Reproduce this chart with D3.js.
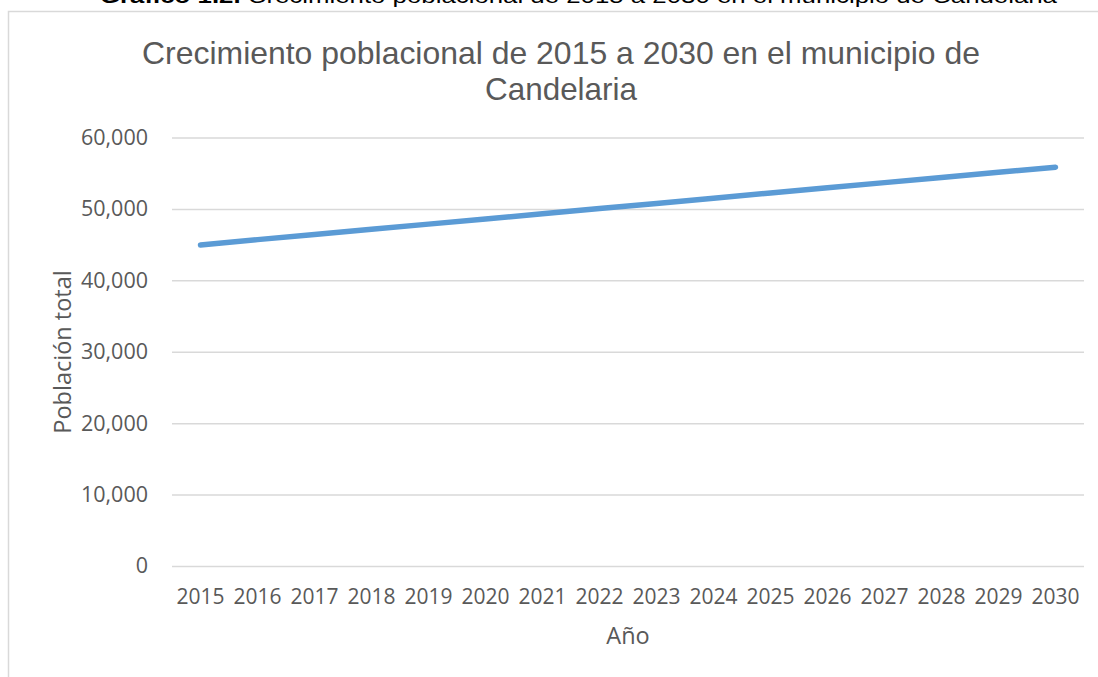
<!DOCTYPE html>
<html><head><meta charset="utf-8">
<script src="https://cdn.jsdelivr.net/npm/d3@7"></script>
<style>html,body{margin:0;padding:0;background:#fff;overflow:hidden}</style>
</head><body>
<script>
const years = ["2015","2016","2017","2018","2019","2020","2021","2022","2023","2024","2025","2026","2027","2028","2029","2030"];
const population = [44950,45700,46420,47150,47870,48590,49320,50050,50770,51500,52230,52960,53680,54400,55120,55850];
const yTicks = [0,10000,20000,30000,40000,50000,60000];
const captionBold = "Gráfico 1.2.";
const captionRest = " Crecimiento poblacional de 2015 a 2030 en el municipio de Candelaria";
const titleLines = ["Crecimiento poblacional de 2015 a 2030 en el municipio de","Candelaria"];
const yTitle = "Población total";
const xTitle = "Año";

const W = 1098, H = 677;
const svg = d3.select("body").append("svg").attr("width",W).attr("height",H);
const gray = "#595959";

// caption (partially cut at top, as in the source page)
const cap = svg.append("text").attr("x",100).attr("y",3)
  .attr("font-family","Liberation Sans, Arial, sans-serif").attr("font-size",21).attr("fill","#000")
  .attr("textLength",957).attr("lengthAdjust","spacingAndGlyphs");
cap.append("tspan").attr("font-weight","bold").text(captionBold);
cap.append("tspan").text(captionRest);

// chart box
svg.append("rect").attr("x",8.5).attr("y",11.5).attr("width",1300).attr("height",900)
  .attr("fill","#fff").attr("stroke","#D9D9D9").attr("stroke-width",1.5);

const m = {left:172, right:1084, top:137.5, bottom:566};
const x = d3.scaleBand().domain(years).range([m.left,m.right]);
const y = d3.scaleLinear().domain([0,60000]).range([m.bottom,m.top]);

// title
svg.append("text").attr("x",561).attr("y",64).attr("text-anchor","middle")
  .attr("font-family","Liberation Sans, Arial, sans-serif").attr("font-size",32).attr("fill",gray)
  .attr("textLength",838).attr("lengthAdjust","spacingAndGlyphs").text(titleLines[0]);
svg.append("text").attr("x",561).attr("y",100).attr("text-anchor","middle")
  .attr("font-family","Liberation Sans, Arial, sans-serif").attr("font-size",32).attr("fill",gray)
  .attr("textLength",152).attr("lengthAdjust","spacingAndGlyphs").text(titleLines[1]);

// grid + y axis
const yAxis = d3.axisLeft(y).tickValues(yTicks).tickSize(-(m.right-m.left)).tickPadding(24)
  .tickFormat(d3.format(","));
const gy = svg.append("g").attr("transform",`translate(${m.left},0)`).call(yAxis);
gy.select(".domain").remove();
gy.selectAll(".tick line").attr("stroke","#D9D9D9").attr("stroke-width",1.5);
gy.selectAll(".tick text").attr("font-family","Open Sans, sans-serif").attr("font-size",21.5).attr("fill",gray);

// x axis
const xAxis = d3.axisBottom(x).tickSize(0).tickPadding(23);
const gx = svg.append("g").attr("transform",`translate(0,${m.bottom})`).call(xAxis);
gx.select(".domain").remove();
gx.selectAll(".tick text").attr("font-family","Open Sans, sans-serif").attr("font-size",21).attr("fill",gray);

// line
const line = d3.line().x((d,i)=>x(years[i])+x.bandwidth()/2).y(d=>y(d));
svg.append("path").datum(population).attr("d",line).attr("fill","none")
  .attr("stroke","#5B9BD5").attr("stroke-width",5.5).attr("stroke-linecap","round").attr("stroke-linejoin","round");

// axis titles
svg.append("text").attr("transform","translate(71,352) rotate(-90)").attr("text-anchor","middle")
  .attr("font-family","Open Sans, sans-serif").attr("font-size",23.5).attr("fill",gray).text(yTitle);
svg.append("text").attr("x",(m.left+m.right)/2).attr("y",644).attr("text-anchor","middle")
  .attr("font-family","Open Sans, sans-serif").attr("font-size",23.5).attr("fill",gray).text(xTitle);
</script>
</body></html>
